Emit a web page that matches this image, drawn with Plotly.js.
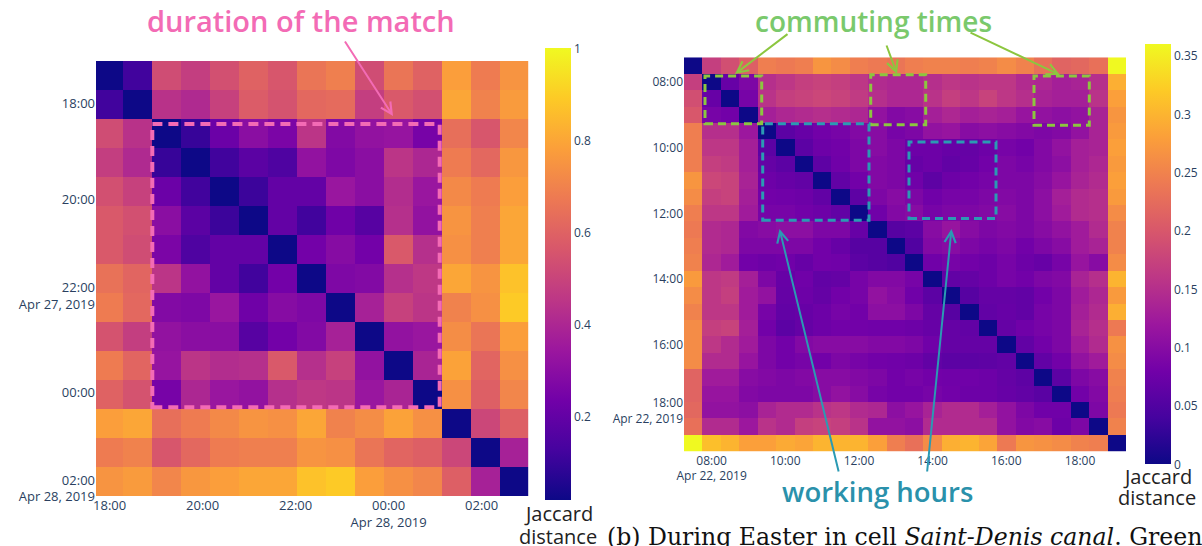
<!DOCTYPE html>
<html><head><meta charset="utf-8">
<script src="https://cdn.plot.ly/plotly-3.0.1.min.js"></script>
<style>html,body{margin:0;padding:0;background:#fff;overflow:hidden}#chart{width:1202px;height:546px}</style>
</head><body><div id="chart"></div>
<script>
// ---------- data ----------
const leftSlots = [0,1,2,3,4,5,6,7,8,9,10,11,12,13,14];
const leftZ = [
 [0,0.12,0.53,0.48,0.54,0.6,0.56,0.66,0.69,0.53,0.66,0.6,0.78,0.68,0.75],
 [0.12,0,0.44,0.41,0.49,0.58,0.55,0.62,0.63,0.48,0.57,0.54,0.8,0.7,0.77],
 [0.53,0.44,0,0.1,0.22,0.3,0.26,0.45,0.28,0.32,0.33,0.25,0.64,0.56,0.71],
 [0.48,0.41,0.1,0,0.12,0.18,0.15,0.32,0.27,0.3,0.45,0.4,0.68,0.62,0.76],
 [0.54,0.49,0.22,0.12,0,0.11,0.2,0.2,0.34,0.3,0.42,0.34,0.72,0.68,0.78],
 [0.57,0.54,0.3,0.18,0.11,0,0.2,0.12,0.23,0.17,0.43,0.32,0.75,0.69,0.8],
 [0.57,0.53,0.26,0.15,0.2,0.2,0,0.24,0.29,0.24,0.57,0.43,0.74,0.69,0.8],
 [0.65,0.61,0.45,0.32,0.2,0.12,0.24,0,0.27,0.28,0.43,0.46,0.8,0.75,0.87],
 [0.68,0.62,0.28,0.27,0.34,0.23,0.29,0.27,0,0.38,0.49,0.45,0.7,0.74,0.89],
 [0.55,0.48,0.32,0.3,0.3,0.17,0.24,0.28,0.38,0,0.32,0.34,0.73,0.66,0.78],
 [0.68,0.61,0.33,0.45,0.42,0.43,0.57,0.43,0.49,0.32,0,0.39,0.79,0.61,0.74],
 [0.6,0.55,0.25,0.4,0.34,0.32,0.43,0.46,0.45,0.34,0.39,0,0.74,0.59,0.71],
 [0.78,0.8,0.64,0.68,0.72,0.75,0.74,0.8,0.7,0.73,0.79,0.74,0,0.51,0.59],
 [0.68,0.7,0.56,0.62,0.68,0.69,0.69,0.75,0.74,0.66,0.61,0.59,0.51,0,0.38],
 [0.75,0.77,0.71,0.76,0.78,0.8,0.8,0.87,0.89,0.78,0.74,0.71,0.59,0.38,0]
];
const leftXTickVals = [0.05,3.26,6.47,9.68,12.89];
const leftXTickText = ['18:00','20:00','22:00','00:00<br>Apr 28, 2019','02:00'];
const leftYTickVals = [0.96,4.28,7.6,10.92,14.24];
const leftYTickText = ['18:00','20:00','22:00<br>Apr 27, 2019','00:00','02:00<br>Apr 28, 2019'];
const leftBarTicks = [0.2,0.4,0.6,0.8,1];

const rightSlots = [0,1,2,3,4,5,6,7,8,9,10,11,12,13,14,15,16,17,18,19,20,21,22,23];
const rightZ = [
 [0,0.17,0.19,0.21,0.245,0.24,0.245,0.27,0.26,0.245,0.24,0.235,0.245,0.25,0.25,0.245,0.25,0.26,0.25,0.23,0.215,0.22,0.23,0.36],
 [0.17,0,0.07,0.09,0.15,0.16,0.17,0.175,0.17,0.16,0.145,0.14,0.14,0.15,0.16,0.155,0.16,0.16,0.145,0.14,0.13,0.135,0.15,0.295],
 [0.19,0.07,0,0.085,0.155,0.17,0.175,0.18,0.175,0.165,0.15,0.14,0.14,0.155,0.17,0.16,0.175,0.16,0.15,0.135,0.13,0.13,0.155,0.28],
 [0.2,0.085,0.08,0,0.13,0.14,0.145,0.15,0.145,0.14,0.11,0.095,0.1,0.13,0.14,0.13,0.135,0.13,0.115,0.11,0.105,0.11,0.135,0.27],
 [0.245,0.15,0.15,0.12,0,0.06,0.07,0.08,0.085,0.095,0.1,0.085,0.09,0.11,0.115,0.1,0.105,0.1,0.095,0.09,0.095,0.11,0.135,0.275],
 [0.245,0.16,0.16,0.13,0.06,0,0.06,0.075,0.08,0.09,0.1,0.09,0.075,0.075,0.07,0.068,0.075,0.085,0.08,0.095,0.11,0.13,0.135,0.28],
 [0.245,0.17,0.165,0.13,0.068,0.06,0,0.062,0.078,0.09,0.095,0.09,0.07,0.075,0.065,0.07,0.08,0.09,0.085,0.095,0.105,0.13,0.14,0.275],
 [0.27,0.18,0.175,0.135,0.075,0.07,0.065,0,0.065,0.08,0.095,0.09,0.078,0.062,0.075,0.08,0.085,0.09,0.09,0.1,0.115,0.135,0.145,0.28],
 [0.26,0.17,0.175,0.13,0.08,0.078,0.075,0.065,0,0.062,0.09,0.1,0.09,0.078,0.085,0.085,0.09,0.095,0.09,0.105,0.13,0.145,0.15,0.275],
 [0.245,0.16,0.16,0.125,0.085,0.085,0.08,0.075,0.065,0,0.078,0.095,0.1,0.085,0.09,0.09,0.095,0.1,0.09,0.105,0.125,0.145,0.15,0.26],
 [0.24,0.145,0.14,0.095,0.1,0.105,0.105,0.09,0.09,0.07,0,0.055,0.06,0.1,0.115,0.1,0.09,0.095,0.09,0.1,0.11,0.125,0.145,0.25],
 [0.245,0.145,0.14,0.09,0.09,0.09,0.09,0.08,0.07,0.055,0.055,0,0.05,0.095,0.1,0.09,0.085,0.09,0.08,0.09,0.1,0.125,0.135,0.25],
 [0.25,0.14,0.125,0.08,0.075,0.078,0.07,0.08,0.078,0.06,0.055,0.05,0,0.078,0.085,0.08,0.075,0.085,0.075,0.07,0.085,0.115,0.1,0.26],
 [0.275,0.16,0.165,0.13,0.09,0.07,0.078,0.065,0.068,0.085,0.095,0.095,0.085,0,0.065,0.068,0.075,0.085,0.08,0.09,0.095,0.135,0.15,0.3],
 [0.26,0.16,0.17,0.125,0.11,0.068,0.075,0.068,0.08,0.085,0.11,0.1,0.078,0.06,0,0.055,0.068,0.068,0.065,0.08,0.09,0.125,0.14,0.275],
 [0.25,0.16,0.16,0.125,0.085,0.065,0.07,0.075,0.085,0.08,0.105,0.105,0.09,0.068,0.055,0,0.065,0.07,0.065,0.085,0.09,0.13,0.145,0.295],
 [0.26,0.17,0.175,0.13,0.08,0.06,0.068,0.075,0.08,0.08,0.078,0.078,0.075,0.07,0.068,0.065,0,0.068,0.078,0.085,0.09,0.135,0.15,0.24],
 [0.26,0.16,0.145,0.125,0.09,0.08,0.095,0.1,0.1,0.1,0.095,0.095,0.09,0.078,0.068,0.068,0.068,0,0.065,0.08,0.09,0.125,0.145,0.265],
 [0.26,0.145,0.145,0.115,0.09,0.08,0.085,0.08,0.09,0.085,0.08,0.078,0.075,0.065,0.06,0.06,0.062,0.065,0,0.065,0.08,0.11,0.125,0.26],
 [0.215,0.125,0.125,0.1,0.095,0.09,0.095,0.1,0.1,0.095,0.09,0.08,0.085,0.08,0.078,0.078,0.075,0.068,0.062,0,0.06,0.09,0.1,0.25],
 [0.215,0.115,0.115,0.095,0.09,0.09,0.09,0.1,0.11,0.1,0.085,0.08,0.08,0.085,0.08,0.075,0.075,0.07,0.065,0.058,0,0.08,0.095,0.245],
 [0.22,0.11,0.11,0.105,0.135,0.145,0.145,0.155,0.16,0.145,0.14,0.105,0.115,0.135,0.145,0.145,0.13,0.11,0.09,0.078,0.078,0,0.09,0.24],
 [0.23,0.145,0.145,0.12,0.155,0.145,0.17,0.175,0.17,0.155,0.11,0.11,0.105,0.145,0.145,0.145,0.145,0.11,0.095,0.1,0.075,0.09,0,0.25],
 [0.36,0.31,0.3,0.28,0.28,0.29,0.285,0.3,0.3,0.3,0.28,0.245,0.23,0.26,0.295,0.3,0.285,0.24,0.27,0.265,0.26,0.25,0.245,0]
];
const rightTickVals = [1,5,9,13,17,21];
const rightXTickText = ['08:00<br>Apr 22, 2019','10:00','12:00','14:00','16:00','18:00'];
const rightYTickText = ['08:00','10:00','12:00','14:00','16:00','18:00<br>Apr 22, 2019'];
const rightBarTicks = [0,0.05,0.1,0.15,0.2,0.25,0.3,0.35];

// ---------- styling ----------
const W = 1202, H = 546;
const PX = x => x / W;
const PY = y => 1 - y / H;
const plasma = [[0,'#0d0887'],[0.1111,'#46039f'],[0.2222,'#7201a8'],[0.3333,'#9c179e'],[0.4444,'#bd3786'],[0.5556,'#d8576b'],[0.6667,'#ed7953'],[0.7778,'#fb9f3a'],[0.8889,'#fdca26'],[1,'#f0f921']];
const TICK = '#2a3f5f';
const PINK = '#f36bb5', GREEN = '#8cc63f', GTEXT = '#7ac96c', TEAL = '#2b9ab3', TTEXT = '#2a91ab';

const traces = [
 {type:'heatmap', x:leftSlots, y:leftSlots, z:leftZ, xaxis:'x', yaxis:'y',
  colorscale:plasma, zmin:0.02, zmax:1, hoverinfo:'skip',
  colorbar:{x:PX(545), xanchor:'left', xpad:0, y:PY(48.3), yanchor:'top', ypad:0,
    len:452, lenmode:'pixels', thickness:26, thicknessmode:'pixels', outlinewidth:0,
    tickvals:leftBarTicks, ticks:'', tickfont:{family:'Open Sans', size:12, color:TICK}}},
 {type:'heatmap', x:rightSlots, y:rightSlots, z:rightZ, xaxis:'x2', yaxis:'y2',
  colorscale:plasma, zmin:0, zmax:0.36, hoverinfo:'skip',
  colorbar:{x:PX(1144.5), xanchor:'left', xpad:0, y:PY(44.3), yanchor:'top', ypad:0,
    len:420, lenmode:'pixels', thickness:26, thicknessmode:'pixels', outlinewidth:0,
    tickvals:rightBarTicks, ticks:'', tickfont:{family:'Open Sans', size:12, color:TICK}}}
];

const axBase = {showgrid:false, zeroline:false, showline:false, ticks:'', automargin:false};
const layout = {
 width:W, height:H, margin:{l:0,r:0,t:0,b:0}, autosize:false,
 paper_bgcolor:'#ffffff', plot_bgcolor:'#ffffff', showlegend:false,
 font:{family:'Open Sans', color:TICK},
 xaxis: Object.assign({}, axBase, {domain:[PX(96),PX(528.3)], range:[-0.42,14.5], anchor:'y',
   tickvals:leftXTickVals, ticktext:leftXTickText, tickfont:{size:13, color:TICK}}),
 yaxis: Object.assign({}, axBase, {domain:[PY(496),PY(61)], range:[14.5,-0.5], anchor:'x',
   tickvals:leftYTickVals, ticktext:leftYTickText, tickfont:{size:13, color:TICK}}),
 xaxis2: Object.assign({}, axBase, {domain:[PX(684),PX(1126)], range:[-0.5,23.5], anchor:'y2',
   tickvals:rightTickVals, ticktext:rightXTickText, tickfont:{size:12, color:TICK}}),
 yaxis2: Object.assign({}, axBase, {domain:[PY(451.7),PY(57.3)], range:[23.5,-0.5], anchor:'x2',
   tickvals:rightTickVals, ticktext:rightYTickText, tickfont:{size:12, color:TICK}}),
 shapes: [],
 annotations: []
};

function rect(x0,y0,x1,y1,color,width,dash){
  layout.shapes.push({type:'rect', xref:'paper', yref:'paper', x0:PX(x0), x1:PX(x1), y0:PY(y1), y1:PY(y0),
    line:{color:color, width:width, dash:dash}, fillcolor:'rgba(0,0,0,0)', layer:'above'});
}
function label(text,x,y,size,color,family,anchor,weight){
  layout.annotations.push({xref:'paper', yref:'paper', x:PX(x), y:PY(y), text:text, showarrow:false,
    xanchor:anchor||'center', yanchor:'middle', font:{family:family||'Open Sans', size:size, color:color, weight:weight||400}});
}
function arrow(tx,ty,hx,hy,color){
  layout.annotations.push({xref:'paper', yref:'paper', x:PX(hx), y:PY(hy), ax:tx-hx, ay:ty-hy,
    axref:'pixel', ayref:'pixel', text:'', showarrow:true, arrowhead:5, arrowsize:1.1, arrowwidth:2, arrowcolor:color});
}

// left annotations
rect(152.3,124,439.7,407.3,PINK,4,'10px,6px');
label('duration of the match',301,21,29,PINK,'Open Sans','center',600);
arrow(344,40,393,116,PINK);
label('Jaccard',558,513,20,'#222222');
label('distance',558,536,20,'#222222');

// right annotations
rect(705,76,761.7,123.7,GREEN,3,'8px,5px');
rect(870.7,74.7,925.7,124.7,GREEN,3,'8px,5px');
rect(1034,76,1089.3,125.3,GREEN,3,'8px,5px');
rect(762.7,123.7,869,220.3,TEAL,3,'8px,5px');
rect(909,142,996,218.5,TEAL,3,'8px,5px');
label('commuting times',873,21,28,GTEXT,'Open Sans','center',600);
arrow(789,33,735,74,GREEN);
arrow(886,44,897,74,GREEN);
arrow(969,32,1060,75,GREEN);
label('working hours',877,491,27.5,TTEXT,'Open Sans','center',600);
arrow(839,473,779.5,229,TEAL);
arrow(927,473,951.5,229,TEAL);
label('Jaccard',1157,476.6,20,'#222222');
label('distance',1157,497.5,20,'#222222');

// caption fragment
label('(b) During Easter in cell <i>Saint-Denis canal</i>. Green',605,537,23.6,'#111111','DejaVu Serif','left');

Plotly.newPlot('chart', traces, layout, {staticPlot:true, displayModeBar:false});
</script>
</body></html>
